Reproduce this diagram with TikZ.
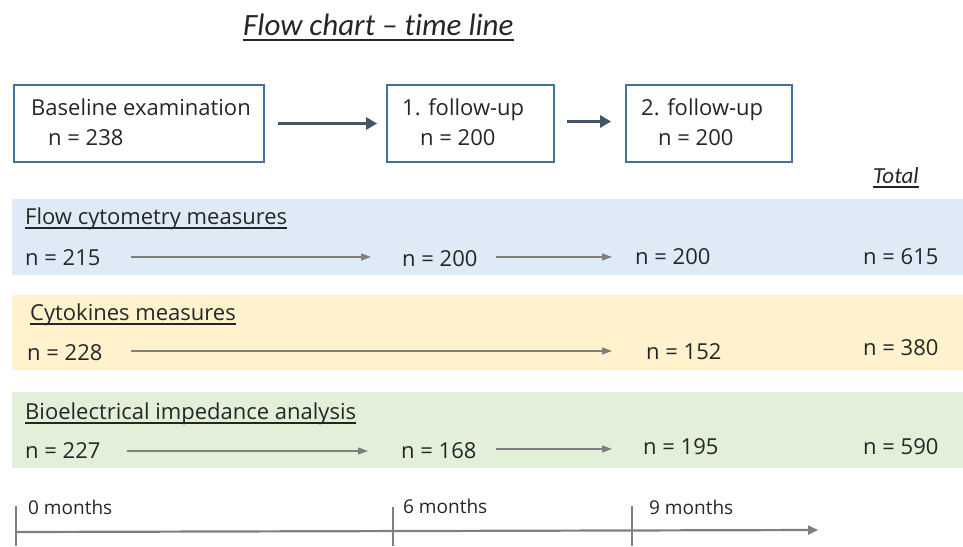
\documentclass[tikz,border=0pt]{standalone}
\usepackage{fontspec}
\setmainfont{Open Sans}
\newfontfamily\titlefont[Ligatures=NoCommon]{Carlito}
\usetikzlibrary{arrows.meta}
\definecolor{boxblue}{HTML}{41719C}
\definecolor{darkarrow}{HTML}{44546A}
\definecolor{bandblue}{HTML}{DEEBF7}
\definecolor{bandyellow}{HTML}{FFF2CC}
\definecolor{bandgreen}{HTML}{E2F0D9}
\definecolor{greyline}{HTML}{7F7F7F}
\definecolor{txt}{HTML}{262626}
\begin{document}
\begin{tikzpicture}[x=1pt,y=-1pt,
  lbl/.style={anchor=base west, inner sep=0pt, font=\fontsize{22}{26}\selectfont, text=txt},
  ttl/.style={anchor=base west, inner sep=0pt, text=txt},
  uline/.style={draw=txt, line width=1.3pt},
  stagebox/.style={draw=boxblue, line width=1.8pt, fill=white, inner sep=0pt},
  bigarrow/.style={darkarrow, line width=3.6pt, -{Triangle[length=11pt,width=12pt]}},
  thinarrow/.style={greyline, line width=1.4pt, -{Triangle[length=10pt,width=7pt]}},
  timeline/.style={greyline, line width=2.2pt}
]
\useasboundingbox (0,0) rectangle (963,546);

% title
\node[ttl, font=\titlefont\itshape\fontsize{31}{36}\selectfont] (title) at (243,35) {Flow chart – time line};
\draw[uline, line width=1.8pt] ([yshift=-5pt]title.base west) -- ([yshift=-5pt]title.base east);

% stage boxes
\node[stagebox, minimum width=250pt, minimum height=77pt] (box1) at (139,123.5) {};
\node[stagebox, minimum width=167pt, minimum height=77pt] (box2) at (470.5,123.5) {};
\node[stagebox, minimum width=166pt, minimum height=77pt] (box3) at (709,123.5) {};
\node[lbl] (b1a) at (31,115) {Baseline examination};
\node[lbl] (b1b) at (48,145) {n = 238};
\node[lbl] (b2a) at (402,115) {1. follow-up};
\node[lbl] (b2b) at (420,145) {n = 200};
\node[lbl] (b3a) at (641,115) {2. follow-up};
\node[lbl] (b3b) at (658,145) {n = 200};
\draw[bigarrow] ([xshift=13pt]box1.east) -- ([xshift=-9pt]box2.west);
\draw[bigarrow] ([xshift=12pt,yshift=2pt]box2.east) -- ([xshift=-14pt,yshift=2pt]box3.west);

% total
\node[ttl, font=\titlefont\itshape\fontsize{23}{27}\selectfont] (total) at (873,183) {Total};
\draw[uline] ([yshift=-4pt]total.base west) -- ([yshift=-4pt]total.base east);

% bands
\fill[bandblue] (12,199) rectangle (963,275);
\fill[bandyellow] (12,295) rectangle (963,370);
\fill[bandgreen] (12,392) rectangle (963,468);

% band 1
\node[lbl] (h1) at (25,224) {Flow cytometry measures};
\draw[uline] ([yshift=-4pt]h1.base west) -- ([yshift=-4pt]h1.base east);
\node[lbl] (f1) at (25,265) {n = 215};
\node[lbl] (f2) at (402,266) {n = 200};
\node[lbl] (f3) at (635,264) {n = 200};
\node[lbl] (f4) at (863,264) {n = 615};
\coordinate (f1s) at (131,257); \coordinate (f1e) at (371,257);
\coordinate (f2s) at (496,257); \coordinate (f2e) at (612,257);
\draw[thinarrow] (f1s) -- (f1e);
\draw[thinarrow] (f2s) -- (f2e);

% band 2
\node[lbl] (h2) at (30,320) {Cytokines measures};
\draw[uline] ([yshift=-4pt]h2.base west) -- ([yshift=-4pt]h2.base east);
\node[lbl] (c1) at (27,360) {n = 228};
\node[lbl] (c2) at (646,359) {n = 152};
\node[lbl] (c3) at (863,355) {n = 380};
\coordinate (c1s) at (131,351); \coordinate (c1e) at (612,351);
\draw[thinarrow] (c1s) -- (c1e);

% band 3
\node[lbl] (h3) at (25,419) {Bioelectrical impedance analysis};
\draw[uline] ([yshift=-4pt]h3.base west) -- ([yshift=-4pt]h3.base east);
\node[lbl] (g1) at (25,458) {n = 227};
\node[lbl] (g2) at (401,458) {n = 168};
\node[lbl] (g3) at (643,454) {n = 195};
\node[lbl] (g4) at (863,454) {n = 590};
\coordinate (g1s) at (127,451); \coordinate (g1e) at (368,451);
\coordinate (g2s) at (496,449); \coordinate (g2e) at (612,449);
\draw[thinarrow] (g1s) -- (g1e);
\draw[thinarrow] (g2s) -- (g2e);

% time line
\coordinate (t0) at (16,532); \coordinate (tend) at (818,530);
\draw[timeline, -{Triangle[length=10pt,width=9pt]}] (t0) -- (tend);
\draw[timeline] (16,506) -- (16,546);
\draw[timeline] (393,507) -- (393,546);
\draw[timeline] (632,506) -- (632,546);
\node[lbl, font=\fontsize{19}{23}\selectfont] (m0) at (28,514) {0 months};
\node[lbl, font=\fontsize{19}{23}\selectfont] (m6) at (403,513) {6 months};
\node[lbl, font=\fontsize{19}{23}\selectfont] (m9) at (649,514) {9 months};
\end{tikzpicture}
\end{document}
